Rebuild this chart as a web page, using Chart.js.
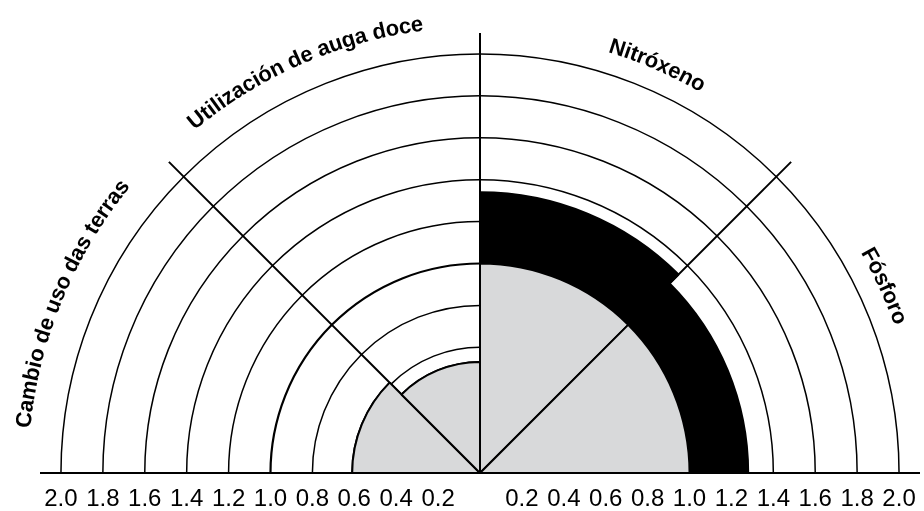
<!DOCTYPE html>
<html>
<head>
<meta charset="utf-8">
<script src="https://cdn.jsdelivr.net/npm/chart.js@4.4.1/dist/chart.umd.min.js"></script>
<style>
  html, body { margin: 0; padding: 0; background: #fff; overflow: hidden; }
  #wrap { width: 924px; height: 511px; overflow: hidden; }
</style>
</head>
<body>
<div id="wrap"><canvas id="chart" width="924" height="946"></canvas></div>
<script>
// categories, clockwise from the left end of the half disc
const categories = ['Cambio de uso das terras', 'Utilización de auga doce', 'Nitróxeno', 'Fósforo'];
// part of each value inside the limit (grey) and the full value (black beyond 1.0)
const withinLimit = [0.61, 0.53, 1.0, 1.0];
const totalValues = [0.61, 0.53, 1.34, 1.28];
const tickValues = [0.2, 0.4, 0.6, 0.8, 1.0, 1.2, 1.4, 1.6, 1.8, 2.0];
const tickLabels = ['0.2', '0.4', '0.6', '0.8', '1.0', '1.2', '1.4', '1.6', '1.8', '2.0'];

// lower half of the disc is left empty
const emptyHalf = [0, 0, 0, 0];

// small hand nudges for the curved category names (px out, degrees along)
const namePad = [18, 12, 6, 6];
const nameTurn = [0, -1, 1, -2.3];

const halfDisc = {
  id: 'halfDisc',
  beforeDraw(chart) {
    const r = chart.scales.r;
    const ctx = chart.ctx;
    ctx.save();
    ctx.beginPath();
    ctx.rect(0, 0, chart.width, r.yCenter + 1);
    ctx.clip();
  },
  afterDatasetsDraw(chart) {
    chart.ctx.restore();
  },
  afterDraw(chart) {
    const r = chart.scales.r;
    const ctx = chart.ctx;
    ctx.save();
    ctx.fillStyle = '#000';

    // tick labels on both sides of the centre
    ctx.font = '24px "Liberation Sans", Arial, sans-serif';
    ctx.textAlign = 'center';
    ctx.textBaseline = 'middle';
    tickValues.forEach((v, i) => {
      const d = r.getDistanceFromCenterForValue(v);
      ctx.fillText(tickLabels[i], r.xCenter - d, r.yCenter + 26);
      ctx.fillText(tickLabels[i], r.xCenter + d, r.yCenter + 26);
    });

    // category names written along the outer arc
    ctx.font = 'bold 22px "Liberation Sans", Arial, sans-serif';
    const step = Math.PI * 2 / chart.data.labels.length;
    categories.forEach((name, i) => {
      const R = r.drawingArea + namePad[i];
      const mid = r.getIndexAngle(i) + step / 2 + nameTurn[i] * Math.PI / 180;
      const chars = Array.from(name);
      const widths = chars.map(c => ctx.measureText(c).width);
      const total = widths.reduce((a, b) => a + b, 0);
      let pos = -total / 2;
      chars.forEach((c, k) => {
        const th = mid + (pos + widths[k] / 2) / R;
        pos += widths[k];
        ctx.save();
        ctx.translate(r.xCenter + R * Math.sin(th), r.yCenter - R * Math.cos(th));
        ctx.rotate(th);
        ctx.fillText(c, 0, 0);
        ctx.restore();
      });
    });
    ctx.restore();
  }
};

new Chart(document.getElementById('chart'), {
  type: 'polarArea',
  data: {
    labels: [...categories, '', '', '', ''],
    datasets: [
      {
        label: 'Dentro do límite',
        data: [...withinLimit, ...emptyHalf],
        backgroundColor: '#d8d9da',
        borderColor: '#000',
        borderWidth: 2
      },
      {
        label: 'Total',
        data: [...totalValues, ...emptyHalf],
        backgroundColor: '#000',
        borderColor: '#000',
        borderWidth: 2
      }
    ]
  },
  options: {
    responsive: false,
    animation: false,
    layout: { padding: { left: 40, right: 4, top: 33, bottom: 33 } },
    plugins: { legend: { display: false }, tooltip: { enabled: false } },
    scales: {
      r: {
        startAngle: -90,
        min: 0,
        max: 2.1,
        ticks: { display: false, stepSize: 0.2, includeBounds: false },
        afterBuildTicks: s => { s.ticks = [0, ...tickValues].map(v => ({ value: v })); },
        grid: {
          color: '#000',
          lineWidth: c => Math.abs(c.tick.value - 1) < 0.01 ? 2.2 : 1.5
        },
        angleLines: {
          display: true,
          color: c => c.index <= 4 ? '#000' : 'rgba(0,0,0,0)',
          lineWidth: 2
        },
        pointLabels: { display: false }
      }
    }
  },
  plugins: [halfDisc]
});
</script>
</body>
</html>
